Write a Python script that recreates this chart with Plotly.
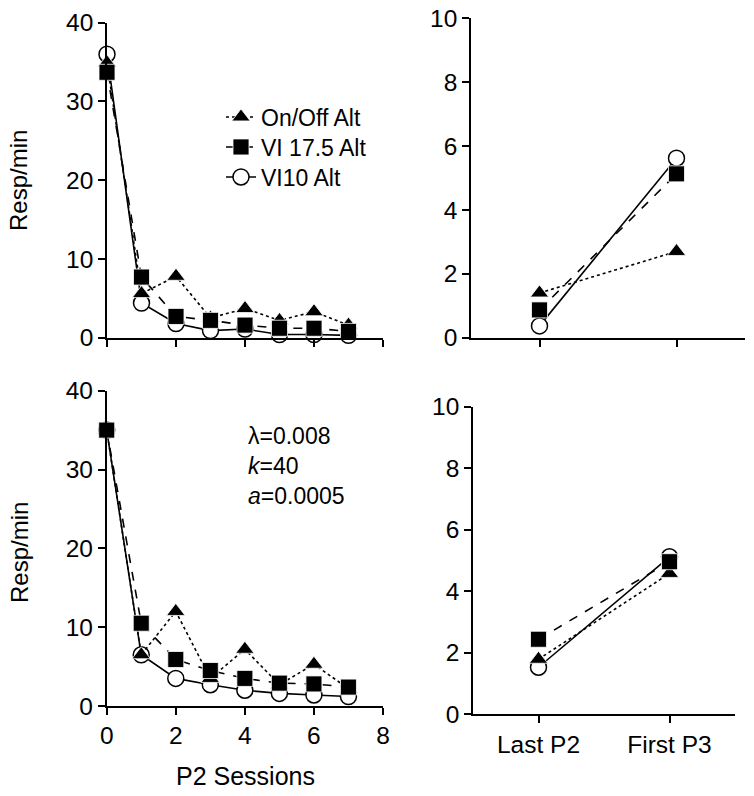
import plotly.graph_objects as go

sessions = [0, 1, 2, 3, 4, 5, 6, 7]
series_names = ["On/Off Alt", "VI 17.5 Alt", "VI10 Alt"]

# Top-left: observed P2 sessions
top_onoff = [34.9, 5.6, 7.8, 2.5, 3.7, 2.2, 3.3, 1.6]
top_vi175 = [33.7, 7.7, 2.7, 2.2, 1.6, 1.2, 1.2, 0.8]
top_vi10 = [36.0, 4.4, 1.8, 0.9, 1.1, 0.4, 0.4, 0.3]

# Bottom-left: model P2 sessions
bot_onoff = [35.0, 6.5, 12.0, 3.5, 7.2, 2.7, 5.3, 2.2]
bot_vi175 = [35.0, 10.5, 5.9, 4.5, 3.5, 2.9, 2.8, 2.4]
bot_vi10 = [35.0, 6.5, 3.5, 2.7, 2.0, 1.6, 1.4, 1.2]

# Right panels
phase_labels = ["Last P2", "First P3"]
phase_pos = [0, 1]
tr_onoff = [1.4, 2.7]
tr_vi175 = [0.87, 5.13]
tr_vi10 = [0.37, 5.62]
br_onoff = [1.79, 4.58]
br_vi175 = [2.44, 4.96]
br_vi10 = [1.53, 5.12]

left_yticks = [0, 10, 20, 30, 40]
left_xticks = [0, 2, 4, 6, 8]
right_yticks = [0, 2, 4, 6, 8, 10]

FONT = "Liberation Sans, Arial, sans-serif"
W, H = 754, 796

styles = {
    "On/Off Alt": dict(dash="dot", symbol="triangle-up", size=16, fill="black", lc="white", leg="legend", row=117),
    "VI 17.5 Alt": dict(dash="dash", symbol="square", size=16, fill="black", lc="white", leg="legend2", row=147),
    "VI10 Alt": dict(dash="solid", symbol="circle", size=16, fill="white", lc="black", leg="legend3", row=177),
}

fig = go.Figure()

def add(x, y, name, xa, ya, show):
    s = styles[name]
    fig.add_trace(go.Scatter(
        x=x, y=y, name=name, mode="lines+markers", xaxis=xa, yaxis=ya,
        line=dict(color="black", width=1.6, dash=s["dash"]),
        marker=dict(symbol=s["symbol"], size=s["size"], color=s["fill"],
                    line=dict(color=s["lc"], width=1.5 if s["fill"] == "white" else 0.8)),
        showlegend=show, legend=s["leg"], cliponaxis=False))

panels = [
    ("x", "y", sessions, [top_onoff, top_vi175, top_vi10], True),
    ("x2", "y2", phase_pos, [tr_onoff, tr_vi175, tr_vi10], False),
    ("x3", "y3", sessions, [bot_onoff, bot_vi175, bot_vi10], False),
    ("x4", "y4", phase_pos, [br_onoff, br_vi175, br_vi10], False),
]
# draw order: circle, triangle, square (square on top)
for xa, ya, xs, ys, show in panels:
    add(xs, ys[2], series_names[2], xa, ya, show)
    add(xs, ys[0], series_names[0], xa, ya, show)
    add(xs, ys[1], series_names[1], xa, ya, show)

def px_x(a, b):
    return [a / W, b / W]

def px_y(top, bottom):
    return [1 - bottom / H, 1 - top / H]

axis_common = dict(showline=True, linecolor="black", linewidth=1.6, ticks="outside",
                   ticklen=7, tickwidth=1.6, tickcolor="black", showgrid=False, zeroline=False,
                   automargin=False,
                   tickfont=dict(family=FONT, size=24.5, color="black"))

def legend_at(row):
    return dict(x=221 / W, y=1 - row / H, xanchor="left", yanchor="middle",
                bgcolor="rgba(0,0,0,0)", borderwidth=0,
                font=dict(family=FONT, size=23, color="black"))

fig.update_layout(
    template="none",
    width=W, height=H, margin=dict(l=0, r=0, t=0, b=0, pad=0),
    paper_bgcolor="white", plot_bgcolor="white",
    font=dict(family=FONT, color="black"),
    xaxis=dict(domain=px_x(107, 383), range=[0, 8], tickvals=left_xticks, showticklabels=False,
               anchor="y", **axis_common),
    yaxis=dict(domain=px_y(22.7, 337.7), range=[0, 40], tickvals=left_yticks, anchor="x", **axis_common),
    xaxis2=dict(domain=px_x(471, 745), range=[-0.5, 1.5], tickvals=phase_pos, showticklabels=False,
                anchor="y2", **axis_common),
    yaxis2=dict(domain=px_y(18.3, 337.7), range=[0, 10], tickvals=right_yticks, anchor="x2", **axis_common),
    xaxis3=dict(domain=px_x(106.7, 383), range=[0, 8], tickvals=left_xticks, anchor="y3", **axis_common),
    yaxis3=dict(domain=px_y(390.7, 706), range=[0, 40], tickvals=left_yticks, anchor="x3", **axis_common),
    xaxis4=dict(domain=px_x(473, 735), range=[-0.5, 1.5], tickvals=phase_pos, ticktext=phase_labels,
                anchor="y4", **axis_common),
    yaxis4=dict(domain=px_y(406.7, 714.3), range=[0, 10], tickvals=right_yticks, anchor="x4", **axis_common),
    legend=legend_at(styles["On/Off Alt"]["row"]),
    legend2=legend_at(styles["VI 17.5 Alt"]["row"]),
    legend3=legend_at(styles["VI10 Alt"]["row"]),
)

annos = [
    dict(text="Resp/min", x=19 / W, y=1 - 181 / H, textangle=-90, font=dict(size=24)),
    dict(text="Resp/min", x=19 / W, y=1 - 553 / H, textangle=-90, font=dict(size=24)),
    dict(text="P2 Sessions", x=245 / W, y=1 - 776 / H, font=dict(size=25)),
    dict(text="λ=0.008<br><i>k</i>=40<br><i>a</i>=0.0005", x=246 / W, y=1 - 421 / H,
         xanchor="left", yanchor="top", align="left", font=dict(size=23)),
]
for a in annos:
    a.setdefault("xanchor", "center")
    a.setdefault("yanchor", "middle")
    a["font"] = dict(family=FONT, color="black", **a["font"])
    fig.add_annotation(xref="paper", yref="paper", showarrow=False, **a)

fig.write_html("out.html", config={"displayModeBar": False},
               post_script="document.body.style.margin='0px';document.body.style.padding='0px';")
